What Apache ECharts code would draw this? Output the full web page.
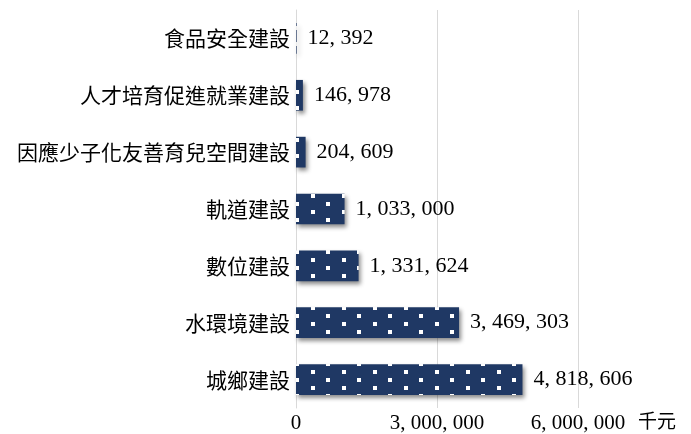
<!DOCTYPE html>
<html>
<head>
<meta charset="utf-8">
<script src="https://cdn.jsdelivr.net/npm/echarts@6/dist/echarts.min.js"></script>
<style>html,body{margin:0;padding:0;background:#fff;}#c{width:691px;height:434px;}</style>
</head>
<body>
<div id="c"></div>
<script>
var categories = ['食品安全建設','人才培育促進就業建設','因應少子化友善育兒空間建設','軌道建設','數位建設','水環境建設','城鄉建設'];
var values = [12392,146978,204609,1033000,1331624,3469303,4818606];
var xTicks = [0,3000000,6000000];
var unitLabel = '千元';

function fmt(v){ return String(v).replace(/\B(?=(\d{3})+(?!\d))/g, ', '); }

var tile = document.createElement('canvas');
tile.width = 31; tile.height = 16;
var ctx = tile.getContext('2d');
ctx.fillStyle = '#1f3864';
ctx.fillRect(0,0,31,16);
ctx.fillStyle = '#ffffff';
ctx.fillRect(1,2,4,4);
ctx.fillRect(16,10,4,4);

var chart = echarts.init(document.getElementById('c'));
chart.setOption({
  animation:false,
  grid:{left:296,right:113,top:10,bottom:24,containLabel:false},
  xAxis:{
    type:'value', min:xTicks[0], max:xTicks[xTicks.length-1], interval:xTicks[1]-xTicks[0],
    name:unitLabel, nameLocation:'end', nameGap:60,
    nameTextStyle:{fontFamily:'Noto Sans CJK TC',fontSize:19,color:'#000',verticalAlign:'top',padding:[3,0,0,0]},
    axisLine:{show:false}, axisTick:{show:false},
    splitLine:{show:true,lineStyle:{color:'#d9d9d9',width:1}},
    axisLabel:{fontFamily:'Liberation Serif',fontSize:21,color:'#000',margin:5,formatter:function(v){return fmt(v);}}
  },
  yAxis:{
    type:'category', data:categories, inverse:true,
    axisLine:{show:true,lineStyle:{color:'#d9d9d9'}}, axisTick:{show:false},
    axisLabel:{fontFamily:'Noto Sans CJK TC',fontSize:21,color:'#000',margin:6}
  },
  series:[{
    type:'bar', data:values, barCategoryGap:'46%',
    itemStyle:{color:{image:tile,repeat:'repeat'},shadowColor:'rgba(0,0,0,0.45)',shadowBlur:4,shadowOffsetX:2,shadowOffsetY:3},
    label:{show:true,position:'right',distance:11,fontFamily:'Liberation Serif',fontSize:22,color:'#000',formatter:function(p){return fmt(p.value);}}
  }]
});
</script>
</body>
</html>
